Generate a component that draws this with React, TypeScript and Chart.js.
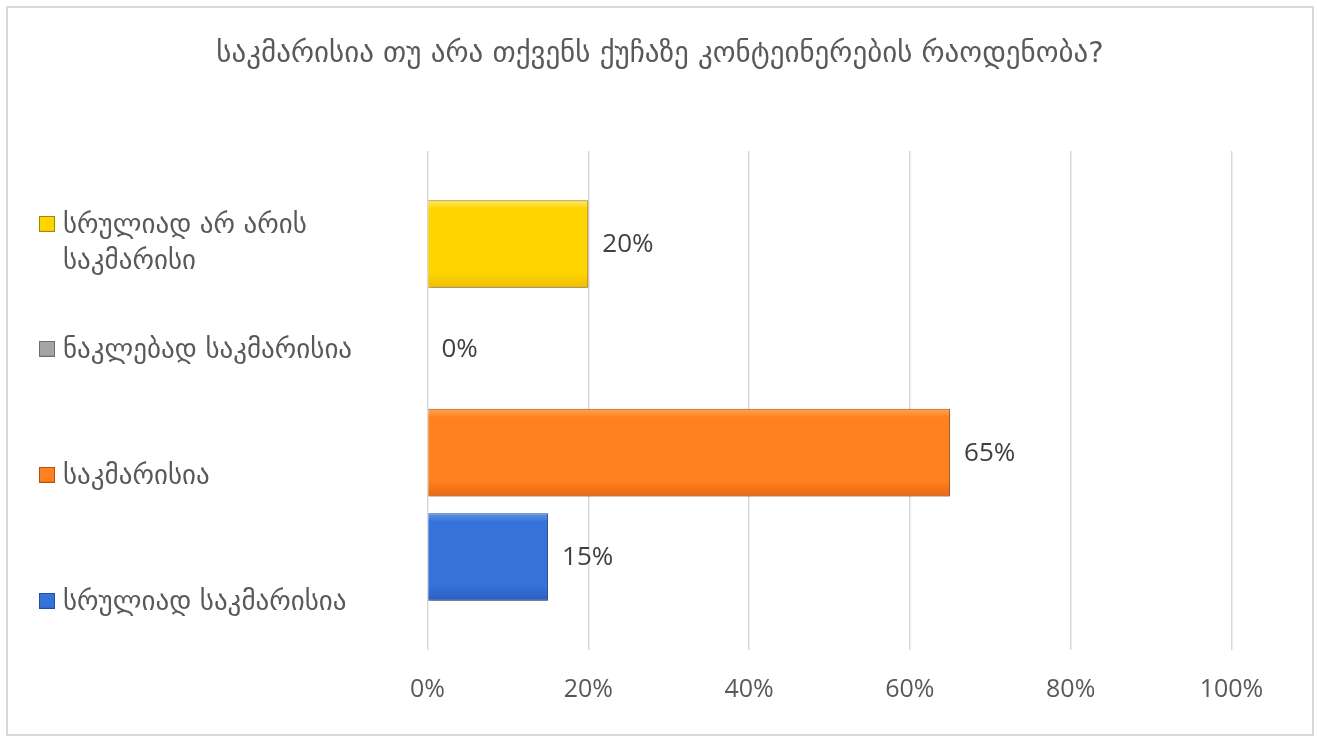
import React, { useEffect, useRef } from "react";
import { Chart, registerables } from "chart.js";

Chart.register(...registerables);

const TITLE = "საკმარისია თუ არა თქვენს ქუჩაზე კონტეინერების რაოდენობა?";
const CATEGORIES = [""];
const SERIES_NAMES = [
  ["სრულიად არ არის", "საკმარისი"],
  ["ნაკლებად საკმარისია"],
  ["საკმარისია"],
  ["სრულიად საკმარისია"],
];
const SERIES_VALUES = [20, 0, 65, 15];
const X_TICKS = [0, 20, 40, 60, 80, 100];

// [light top, main, dark bottom, border]
const SERIES_COLORS = [
  ["#FFE866", "#FFD500", "#F0BE00", "#A68600"],
  ["#CFCFCF", "#A5A5A5", "#8A8A8A", "#6E6E6E"],
  ["#FFA552", "#FF801F", "#E8690F", "#B0520C"],
  ["#6096E8", "#3572DA", "#2B5FC0", "#234E9C"],
];

const GEO_FONT = '"DejaVu Sans", sans-serif';
const NUM_FONT = '"Open Sans", sans-serif';

export default function App() {
  const ref = useRef<HTMLCanvasElement | null>(null);

  useEffect(() => {
    document.body.style.margin = "0";
    const canvas = ref.current!;

    const gradFor = (ctx: CanvasRenderingContext2D, top: number, bottom: number, c: string[]) => {
      if (!Number.isFinite(top) || !Number.isFinite(bottom) || bottom <= top) return c[1];
      const g = ctx.createLinearGradient(0, top, 0, bottom);
      g.addColorStop(0, c[0]);
      g.addColorStop(0.1, c[1]);
      g.addColorStop(0.82, c[1]);
      g.addColorStop(1, c[2]);
      return g;
    };

    const decor = {
      id: "decor",
      beforeDraw(chart: any) {
        const ctx = chart.ctx as CanvasRenderingContext2D;
        ctx.save();
        ctx.fillStyle = "#FFFFFF";
        ctx.fillRect(0, 0, chart.width, chart.height);
        ctx.strokeStyle = "#D9D9D9";
        ctx.lineWidth = 2;
        ctx.strokeRect(7, 7, 1306, 728);
        ctx.restore();
      },
      beforeDatasetsDraw(chart: any) {
        chart.data.datasets.forEach((_: any, i: number) => {
          const meta = chart.getDatasetMeta(i);
          meta.data.forEach((bar: any) => {
            const h = bar.height;
            bar.options.backgroundColor = gradFor(chart.ctx, bar.y - h / 2, bar.y + h / 2, SERIES_COLORS[i]);
          });
        });
        const ctx = chart.ctx as CanvasRenderingContext2D;
        ctx.save();
        ctx.shadowColor = "rgba(0,0,0,0.28)";
        ctx.shadowBlur = 5;
        ctx.shadowOffsetX = 1;
        ctx.shadowOffsetY = 3;
      },
      afterDatasetsDraw(chart: any) {
        chart.ctx.restore();
      },
      afterDraw(chart: any) {
        const ctx = chart.ctx as CanvasRenderingContext2D;
        ctx.save();
        // title
        ctx.fillStyle = "#595959";
        ctx.font = `29px ${GEO_FONT}`;
        ctx.textAlign = "center";
        ctx.textBaseline = "middle";
        ctx.fillText(TITLE, 660, 54);
        // legend
        const lineYs = [226, 351, 477, 603];
        const lineH = 36;
        ctx.textAlign = "left";
        ctx.font = `27px ${GEO_FONT}`;
        SERIES_NAMES.forEach((lines, i) => {
          const y0 = lineYs[i];
          const c = SERIES_COLORS[i];
          const sx = 39, sy = y0 - 10, s = 16;
          ctx.fillStyle = gradFor(ctx, sy, sy + s, c);
          ctx.fillRect(sx, sy, s, s);
          ctx.strokeStyle = c[3];
          ctx.lineWidth = 1;
          ctx.strokeRect(sx + 0.5, sy + 0.5, s - 1, s - 1);
          ctx.fillStyle = "#595959";
          lines.forEach((t, k) => ctx.fillText(t, 63, y0 + k * lineH));
        });
        // data labels
        ctx.fillStyle = "#404040";
        ctx.font = `26px ${NUM_FONT}`;
        chart.data.datasets.forEach((ds: any, i: number) => {
          const meta = chart.getDatasetMeta(i);
          meta.data.forEach((bar: any, j: number) => {
            ctx.fillText(`${ds.data[j]}%`, bar.x + 14, bar.y + 1);
          });
        });
        ctx.restore();
      },
    };

    const chart = new Chart(canvas, {
      type: "bar",
      data: {
        labels: CATEGORIES,
        datasets: SERIES_VALUES.map((v, i) => ({
          label: SERIES_NAMES[i].join(" "),
          data: [v],
          backgroundColor: SERIES_COLORS[i][1],
          borderColor: SERIES_COLORS[i][3],
          borderWidth: 1,
          categoryPercentage: 0.836,
          barPercentage: 0.84,
        })),
      },
      options: {
        indexAxis: "y",
        animation: false,
        responsive: false,
        layout: { padding: { left: 427.5, right: 85.5, top: 151, bottom: 0 } },
        plugins: {
          legend: { display: false },
          title: { display: false },
          tooltip: { enabled: false },
        },
        scales: {
          x: {
            min: 0,
            max: 100,
            afterBuildTicks: (s: any) => {
              s.ticks = X_TICKS.map((v) => ({ value: v }));
            },
            afterFit: (s: any) => {
              s.height = 86;
            },
            grid: { color: "#D9D9D9", lineWidth: 1.5, drawTicks: false },
            border: { display: false },
            ticks: {
              padding: 25,
              color: "#595959",
              font: { family: '"Open Sans"', size: 25 },
              callback: (v: any) => `${v}%`,
            },
          },
          y: {
            display: false,
          },
        },
      },
      plugins: [decor],
    } as any);

    return () => chart.destroy();
  }, []);

  return (
    <div style={{ width: 1317, height: 736 }}>
      <canvas ref={ref} width={1317} height={736} />
    </div>
  );
}
